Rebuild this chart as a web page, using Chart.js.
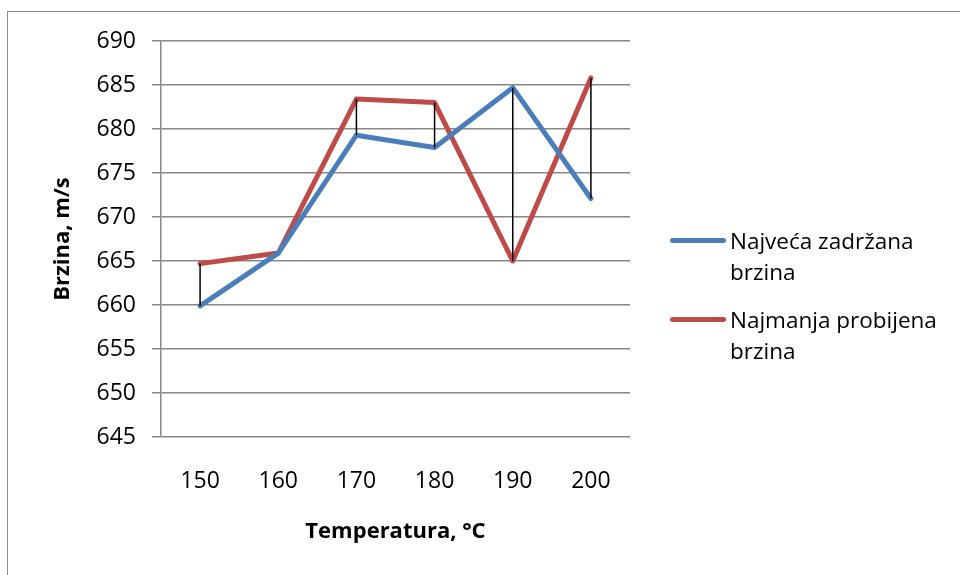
<!DOCTYPE html>
<html lang="hr">
<head>
  <meta charset="UTF-8">
  <title>Brzina vs temperatura</title>
  <style>
    body {
      margin: 0;
      background: white;
      overflow: hidden;
      font-family: 'Open Sans', sans-serif;
    }
    .wrap {
      position: relative;
      width: 960px;
      height: 575px;
    }
    .frame {
      position: absolute;
      left: 7px;
      top: 11px;
      width: 1000px;
      height: 600px;
      border: 1.5px solid #8c8c8c;
    }
    canvas {
      position: absolute;
      left: 0;
      top: 0;
    }
    .legend {
      position: absolute;
      left: 670px;
      font-size: 22.5px;
      line-height: 31px;
      color: #000;
    }
    .legend .item {
      position: absolute;
      left: 0;
      width: 290px;
    }
    .legend .swatch {
      position: absolute;
      left: 0;
      width: 56px;
      height: 5px;
      border-radius: 3px;
    }
    .legend .label {
      position: absolute;
      left: 60px;
      white-space: nowrap;
    }
  </style>
</head>
<body>
<div class="wrap">
  <div class="frame"></div>
  <canvas id="chart" width="960" height="575"></canvas>
  <div class="legend" id="legend"></div>
</div>

<script src="https://cdn.jsdelivr.net/npm/chart.js"></script>
<script>
  // data
  const temperatures = ['150', '160', '170', '180', '190', '200'];
  const maxHeldSpeed = [659.9, 665.9, 679.3, 677.9, 684.7, 672.1];
  const minPiercedSpeed = [664.7, 665.9, 683.4, 683.0, 665.0, 685.8];
  const seriesNames = [['Najveća zadržana', 'brzina'], ['Najmanja probijena', 'brzina']];
  const seriesColors = ['#4a7ebb', '#be4b48'];
  const yMin = 645, yMax = 690, yStep = 5;

  // black high-low lines between the two series
  const hiLoLines = {
    id: 'hiLoLines',
    afterDatasetsDraw(chart) {
      const { ctx, scales: { x, y } } = chart;
      ctx.save();
      ctx.strokeStyle = '#000';
      ctx.lineWidth = 1.5;
      temperatures.forEach((t, i) => {
        const px = x.getPixelForValue(i);
        ctx.beginPath();
        ctx.moveTo(px, y.getPixelForValue(maxHeldSpeed[i]));
        ctx.lineTo(px, y.getPixelForValue(minPiercedSpeed[i]));
        ctx.stroke();
      });
      ctx.restore();
    }
  };

  const ctx = document.getElementById('chart').getContext('2d');
  new Chart(ctx, {
    type: 'line',
    data: {
      labels: temperatures,
      datasets: [
        {
          label: seriesNames[0].join(' '),
          data: maxHeldSpeed,
          borderColor: seriesColors[0],
          backgroundColor: seriesColors[0],
          borderWidth: 5,
          borderCapStyle: 'round',
          borderJoinStyle: 'round',
          pointRadius: 0,
          tension: 0
        },
        {
          label: seriesNames[1].join(' '),
          data: minPiercedSpeed,
          borderColor: seriesColors[1],
          backgroundColor: seriesColors[1],
          borderWidth: 5,
          borderCapStyle: 'round',
          borderJoinStyle: 'round',
          pointRadius: 0,
          tension: 0
        }
      ]
    },
    options: {
      responsive: false,
      animation: false,
      layout: {
        padding: { left: 46, top: 41, right: 330, bottom: 26 }
      },
      plugins: {
        legend: { display: false },
        tooltip: { enabled: false }
      },
      scales: {
        x: {
          offset: true,
          grid: { display: false, drawTicks: false },
          border: { display: false },
          ticks: {
            color: '#000',
            padding: 31,
            font: { family: 'Open Sans', size: 23 }
          },
          title: {
            display: true,
            text: 'Temperatura, °C',
            color: '#000',
            font: { family: 'Open Sans', size: 22, weight: 'bold' }
          },
          afterFit: s => { s.height = 112; }
        },
        y: {
          min: yMin,
          max: yMax,
          grid: {
            color: '#888',
            lineWidth: 1.5,
            tickLength: 9
          },
          border: { color: '#888', width: 1.5 },
          ticks: {
            stepSize: yStep,
            color: '#000',
            padding: 16,
            font: { family: 'Open Sans', size: 23 }
          },
          title: {
            display: true,
            text: 'Brzina, m/s',
            color: '#000',
            font: { family: 'Open Sans', size: 22, weight: 'bold' }
          },
          afterFit: s => { s.width = 115; }
        }
      }
    },
    plugins: [hiLoLines]
  });

  // legend with wrapped labels, like the original
  const legend = document.getElementById('legend');
  const itemTops = [225, 304];
  seriesNames.forEach((name, i) => {
    const item = document.createElement('div');
    item.className = 'item';
    item.style.top = itemTops[i] + 'px';
    const sw = document.createElement('div');
    sw.className = 'swatch';
    sw.style.top = '13px';
    sw.style.background = seriesColors[i];
    const label = document.createElement('div');
    label.className = 'label';
    label.innerHTML = name.join('<br>');
    item.appendChild(sw);
    item.appendChild(label);
    legend.appendChild(item);
  });
</script>
</body>
</html>
